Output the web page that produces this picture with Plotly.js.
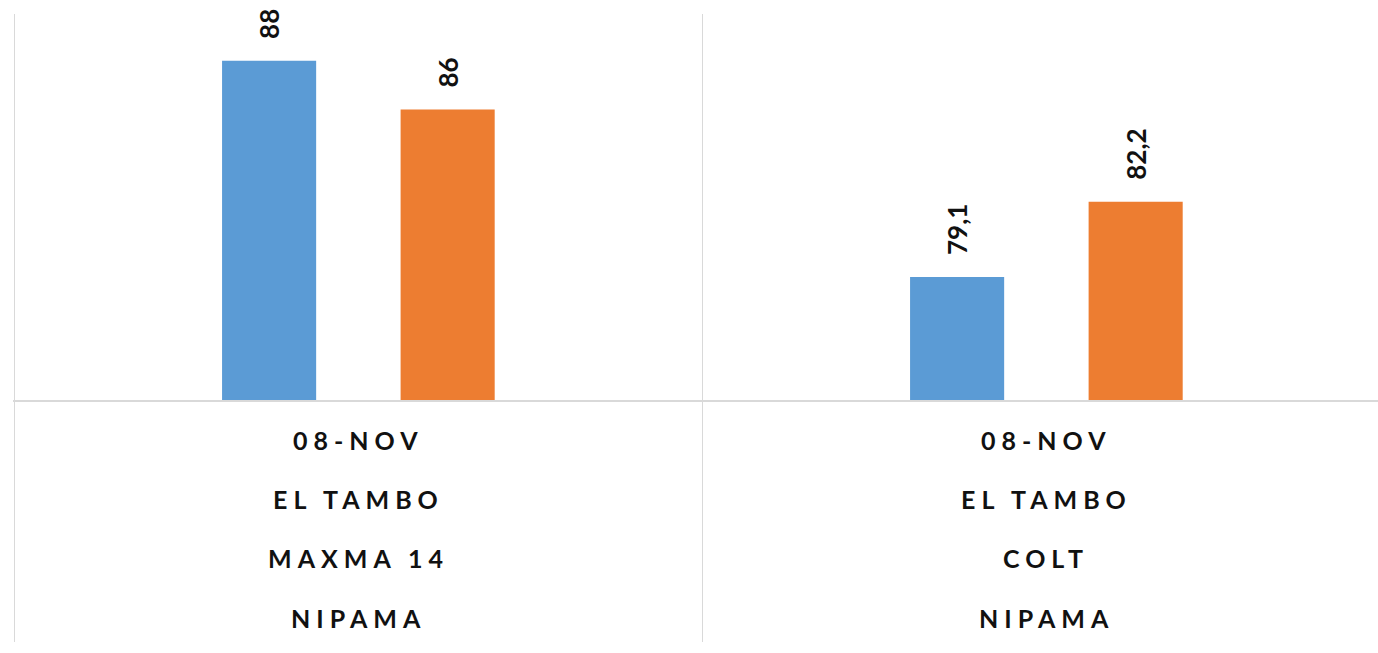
<!DOCTYPE html>
<html>
<head>
<meta charset="utf-8">
<script src="https://cdn.plot.ly/plotly-3.0.1.min.js"></script>
<style>
  html, body { margin: 0; padding: 0; background: #fff; overflow: hidden; }
  #myPlotDiv { width: 1378px; height: 653px; }
  /* the category labels are spaced out letter by letter */
  .annotation-text { letter-spacing: 6px; }
</style>
</head>
<body>
<div id="myPlotDiv"></div>
<script>
// chart data
const dates = ['08-NOV', '08-NOV'];
const sites = ['EL TAMBO', 'EL TAMBO'];
const varieties = ['MAXMA 14', 'COLT'];
const products = ['NIPAMA', 'NIPAMA'];
const seriesA = [88, 79.1];   // blue
const seriesB = [86, 82.2];   // orange

function plotChart() {
    const indices = dates.map((_, i) => i);
    const pad = '\u00a0\u00a0\u00a0';
    const fmt = v => pad + String(v).replace('.', ',');

    const labelFont = { family: 'Lato, "Liberation Sans", sans-serif', size: 26, color: '#111', weight: 'bold' };

    var traceA = {
        x: indices,
        y: seriesA,
        type: 'bar',
        name: 'A',
        marker: { color: '#5B9BD5' },
        text: seriesA.map(fmt),
        textposition: 'outside',
        textangle: -90,
        textfont: labelFont,
        constraintext: 'none',
        cliponaxis: false,
        hoverinfo: 'y'
    };

    var traceB = {
        x: indices,
        y: seriesB,
        type: 'bar',
        name: 'B',
        marker: { color: '#ED7D31' },
        text: seriesB.map(fmt),
        textposition: 'outside',
        textangle: -90,
        textfont: labelFont,
        constraintext: 'none',
        cliponaxis: false,
        hoverinfo: 'y'
    };

    // four text lines under each group
    const rows = [dates, sites, varieties, products];
    const rowShift = [-40, -99, -158, -218];
    var annotations = [];
    rows.forEach((row, r) => {
        row.forEach((txt, i) => {
            annotations.push({
                x: i, xref: 'x',
                y: 0, yref: 'paper',
                yshift: rowShift[r],
                xanchor: 'center', yanchor: 'middle',
                text: txt,
                showarrow: false,
                font: { family: 'Lato, "Liberation Sans", sans-serif', size: 25, color: '#111', weight: 'bold' }
            });
        });
    });

    var layout = {
        width: 1378,
        height: 653,
        margin: { l: 13, r: 0, t: 14, b: 253 },
        paper_bgcolor: '#fff',
        plot_bgcolor: '#fff',
        showlegend: false,
        barmode: 'group',
        bargap: 0.481,
        bargroupgap: 0.473,
        xaxis: {
            type: 'linear',
            range: [-0.502, 1.482],
            tickvals: [-0.5, 0.5],
            showticklabels: false,
            showgrid: true,
            gridcolor: '#d9d9d9',
            gridwidth: 1.5,
            ticks: 'outside',
            ticklen: 240,
            tickwidth: 1.5,
            tickcolor: '#d9d9d9',
            showline: true,
            linecolor: '#d9d9d9',
            linewidth: 1.5,
            zeroline: false,
            fixedrange: true
        },
        yaxis: {
            range: [74.03, 89.93],
            showticklabels: false,
            showgrid: false,
            zeroline: false,
            showline: false,
            fixedrange: true
        },
        annotations: annotations
    };

    Plotly.newPlot('myPlotDiv', [traceA, traceB], layout, { displayModeBar: false, staticPlot: true });
}

window.onload = function() {
    plotChart();
};
</script>
</body>
</html>
